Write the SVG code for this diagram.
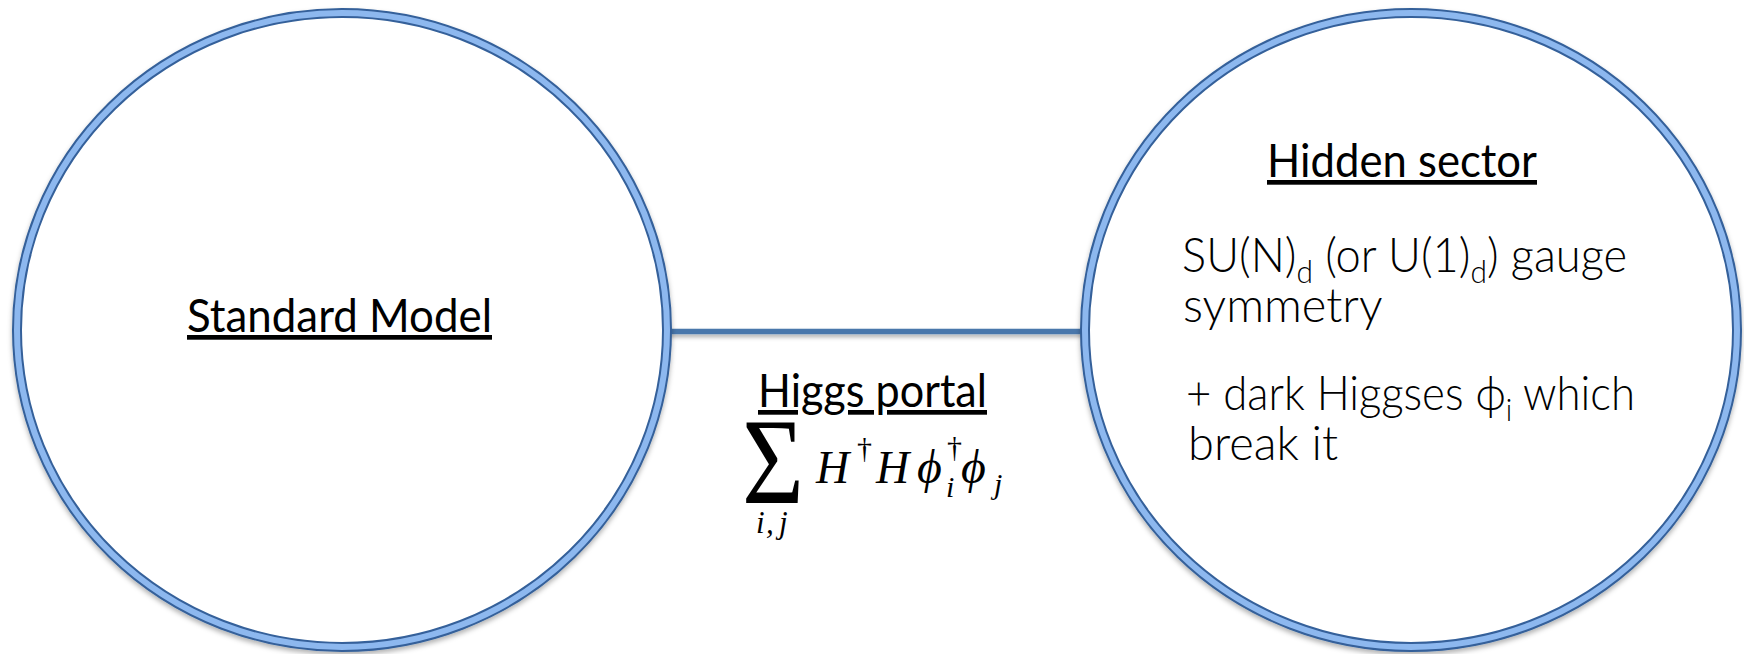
<svg xmlns="http://www.w3.org/2000/svg" width="1744" height="654" viewBox="0 0 1744 654">
<style>
.ring-dark{fill:#ffffff;stroke:#34619a;stroke-width:10}
.ring-light{fill:none;stroke:#8db8ef;stroke-width:6}
.conn{stroke:#4a77ab;stroke-width:5.5;fill:none}
.head{font-family:Lato,"Open Sans","Liberation Sans",sans-serif;font-size:47px;fill:#000;text-decoration:underline}
.body{font-family:Lato,"Open Sans","Liberation Sans",sans-serif;font-weight:300;font-size:47px;fill:#000}
.math{font-family:"Liberation Serif","DejaVu Serif",serif;fill:#000}
.it{font-style:italic}
</style>
<defs>
<filter id="sh" x="-10%" y="-10%" width="120%" height="120%">
<feDropShadow dx="0" dy="3" stdDeviation="2.5" flood-color="#000" flood-opacity="0.3"/>
</filter>
<filter id="shl" filterUnits="userSpaceOnUse" x="640" y="310" width="470" height="45">
<feDropShadow dx="0" dy="3" stdDeviation="2" flood-color="#000" flood-opacity="0.3"/>
</filter>
</defs>
<rect width="1744" height="654" fill="#ffffff"/>
<g id="connectors">
<line class="conn" x1="668" y1="331.5" x2="1086" y2="331.5" filter="url(#shl)"/>
</g>
<g id="standard-model">
<ellipse class="ring-dark" cx="342" cy="330" rx="325" ry="317" filter="url(#sh)"/>
<ellipse class="ring-light" cx="342" cy="330" rx="325" ry="317"/>
<text class="head" x="187" y="332" textLength="305" lengthAdjust="spacingAndGlyphs">Standard Model</text>
</g>
<g id="hidden-sector">
<ellipse class="ring-dark" cx="1411" cy="330" rx="326" ry="317" filter="url(#sh)"/>
<ellipse class="ring-light" cx="1411" cy="330" rx="326" ry="317"/>
<text class="head" x="1267" y="177" textLength="270" lengthAdjust="spacingAndGlyphs">Hidden sector</text>
<text class="body" x="1182" y="272" textLength="445" lengthAdjust="spacingAndGlyphs">SU(N)<tspan font-size="31" dy="11">d</tspan><tspan dy="-11"> (or U(1)</tspan><tspan font-size="31" dy="11">d</tspan><tspan dy="-11">) gauge</tspan></text>
<text class="body" x="1183" y="322">symmetry</text>
<text class="body" x="1186" y="410" textLength="449" lengthAdjust="spacingAndGlyphs">+ dark Higgses ϕ<tspan font-size="31" dy="11">i</tspan><tspan dy="-11"> which</tspan></text>
<text class="body" x="1188" y="460">break it</text>
</g>
<g id="higgs-portal">
<text class="head" x="758" y="407" textLength="229" lengthAdjust="spacingAndGlyphs">Higgs portal</text>
<text class="math" x="742" y="503" font-size="122" textLength="62" lengthAdjust="spacingAndGlyphs">Σ</text>
<text class="math it" x="756 766 779" y="533" font-size="31">i,j</text>
<text class="math it" x="816" y="483" font-size="46">H</text>
<text class="math" x="857" y="458" font-size="30">†</text>
<text class="math it" x="876" y="483" font-size="46">H</text>
<text class="math it" x="917" y="483" font-size="48">ϕ</text>
<text class="math" x="947" y="457" font-size="30">†</text>
<text class="math it" x="946" y="497" font-size="30">i</text>
<text class="math it" x="961" y="483" font-size="48">ϕ</text>
<text class="math it" x="994" y="494" font-size="30">j</text>
</g>
</svg>
